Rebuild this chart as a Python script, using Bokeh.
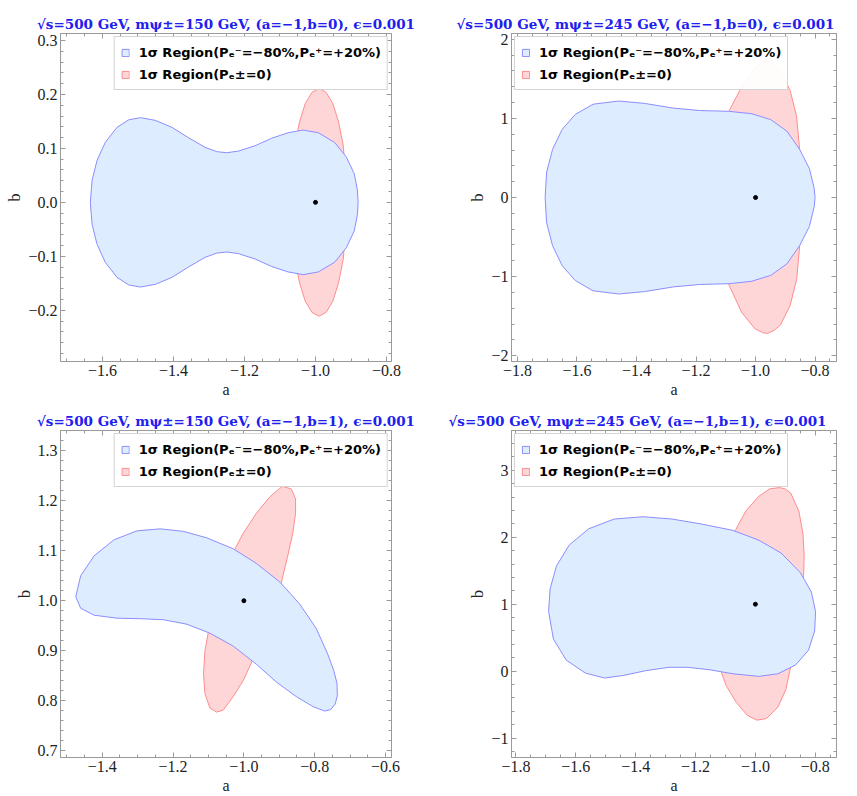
from bokeh.plotting import figure
from bokeh.layouts import gridplot
from bokeh.models import (SingleIntervalTicker, LinearAxis, CustomJSTickFormatter,
                          Range1d, Legend, LegendItem, Title)
from bokeh.embed import file_html
from bokeh.resources import INLINE

# ---------------- data ----------------
TITLES = [
    "√s=500 GeV, mψ±=150 GeV, (a=−1,b=0), ϵ=0.001",
    "√s=500 GeV, mψ±=245 GeV, (a=−1,b=0), ϵ=0.001",
    "√s=500 GeV, mψ±=150 GeV, (a=−1,b=1), ϵ=0.001",
    "√s=500 GeV, mψ±=245 GeV, (a=−1,b=1), ϵ=0.001",
]
LEG_POL = "1σ Region(Pₑ⁻=−80%,Pₑ⁺=+20%)"
LEG_UNPOL = "1σ Region(Pₑ±=0)"

BENCH_A = [-1.0, -1.0, -1.0, -1.0]
BENCH_B = [0.0, 0.0, 1.0, 1.0]

# panel 1 : m=150, b=0
P1_BLUE_A = [-1.634, -1.629, -1.615, -1.592, -1.559, -1.526, -1.493, -1.451, -1.404, -1.358, -1.311, -1.278,
             -1.250, -1.217, -1.170, -1.123, -1.077, -1.035, -0.992, -0.946, -0.913, -0.891, -0.882, -0.880,
             -0.882, -0.891, -0.913, -0.946, -0.992, -1.035, -1.077, -1.123, -1.170, -1.217, -1.250, -1.278,
             -1.311, -1.358, -1.404, -1.451, -1.493, -1.526, -1.559, -1.592, -1.615, -1.629]
P1_BLUE_B = [0.000, 0.041, 0.078, 0.111, 0.139, 0.153, 0.157, 0.152, 0.139, 0.120, 0.102, 0.094,
             0.092, 0.095, 0.105, 0.119, 0.129, 0.134, 0.129, 0.111, 0.084, 0.053, 0.023, 0.000,
             -0.023, -0.053, -0.084, -0.111, -0.129, -0.134, -0.129, -0.119, -0.105, -0.095, -0.092, -0.094,
             -0.102, -0.120, -0.139, -0.152, -0.157, -0.153, -0.139, -0.111, -0.078, -0.041]
P1_RED_A = [-0.912, -0.915, -0.922, -0.935, -0.951, -0.970, -0.990, -1.010, -1.029, -1.045, -1.058, -1.065,
            -1.068, -1.065, -1.058, -1.045, -1.029, -1.010, -0.990, -0.970, -0.951, -0.935, -0.922, -0.915]
P1_RED_B = [0.000, 0.055, 0.106, 0.149, 0.183, 0.204, 0.211, 0.204, 0.183, 0.149, 0.106, 0.055,
            0.000, -0.055, -0.106, -0.149, -0.183, -0.204, -0.211, -0.204, -0.183, -0.149, -0.106, -0.055]

# panel 2 : m=245, b=0
P2_BLUE_A = [-1.707, -1.702, -1.682, -1.650, -1.606, -1.546, -1.460, -1.373, -1.275, -1.188, -1.090, -1.014,
             -0.949, -0.895, -0.852, -0.819, -0.803, -0.800, -0.803, -0.819, -0.852, -0.895, -0.949, -1.014,
             -1.090, -1.188, -1.275, -1.373, -1.460, -1.546, -1.606, -1.650, -1.682, -1.702]
P2_BLUE_B = [0.00, 0.32, 0.61, 0.86, 1.05, 1.18, 1.22, 1.19, 1.13, 1.10, 1.09, 1.06,
             0.985, 0.84, 0.61, 0.365, 0.118, 0.00, -0.118, -0.365, -0.61, -0.84, -0.985, -1.06,
             -1.09, -1.10, -1.13, -1.19, -1.22, -1.18, -1.05, -0.86, -0.61, -0.32]
P2_RED_A = [-1.003, -0.976, -0.960, -0.938, -0.917, -0.884, -0.862, -0.852, -0.849, -0.852, -0.862, -0.884,
            -0.917, -0.938, -0.960, -0.976, -1.003, -1.047, -1.090, -1.123, -1.134, -1.123, -1.090, -1.047]
P2_RED_B = [1.624, 1.715, 1.728, 1.678, 1.604, 1.356, 1.026, 0.613, 0.000, -0.625, -1.038, -1.368,
            -1.616, -1.680, -1.719, -1.710, -1.657, -1.451, -1.100, -0.625, 0.000, 0.613, 1.088, 1.397]

# panel 3 : m=150, b=1
P3_BLUE_A = [-1.475, -1.461, -1.423, -1.367, -1.302, -1.236, -1.171, -1.105, -1.030, -0.965, -0.899, -0.843,
             -0.796, -0.763, -0.746, -0.737, -0.736, -0.742, -0.755, -0.772, -0.805, -0.852, -0.908, -0.965,
             -1.030, -1.096, -1.161, -1.227, -1.292, -1.358, -1.423, -1.461]
P3_BLUE_B = [1.008, 1.050, 1.090, 1.122, 1.140, 1.144, 1.139, 1.126, 1.104, 1.075, 1.038, 0.994,
             0.945, 0.893, 0.860, 0.835, 0.810, 0.793, 0.782, 0.779, 0.788, 0.808, 0.837, 0.873,
             0.909, 0.935, 0.953, 0.962, 0.964, 0.965, 0.971, 0.985]
P3_RED_A = [-0.890, -0.866, -0.854, -0.854, -0.862, -0.876, -0.894, -0.935, -0.974, -1.002, -1.030, -1.058,
            -1.077, -1.096, -1.110, -1.114, -1.110, -1.100, -1.065, -1.025, -1.002, -0.965, -0.927, -0.899]
P3_RED_B = [1.229, 1.224, 1.204, 1.175, 1.135, 1.090, 1.037, 0.955, 0.883, 0.840, 0.808, 0.781,
            0.777, 0.785, 0.814, 0.853, 0.899, 0.939, 1.020, 1.104, 1.135, 1.175, 1.208, 1.225]

# panel 4 : m=245, b=1
P4_BLUE_A = [-1.691, -1.686, -1.665, -1.622, -1.557, -1.472, -1.375, -1.279, -1.182, -1.075, -0.989, -0.914,
             -0.850, -0.813, -0.799, -0.802, -0.823, -0.866, -0.925, -0.989, -1.075, -1.150, -1.225, -1.289,
             -1.365, -1.440, -1.504, -1.568, -1.632, -1.675]
P4_BLUE_B = [0.891, 1.230, 1.570, 1.885, 2.127, 2.273, 2.307, 2.273, 2.200, 2.103, 1.958, 1.764,
             1.473, 1.182, 0.891, 0.600, 0.309, 0.091, -0.040, -0.079, -0.040, 0.018, 0.057, 0.057,
             0.008, -0.064, -0.103, -0.030, 0.164, 0.479]
P4_RED_A = [-0.920, -0.900, -0.882, -0.855, -0.841, -0.837, -0.839, -0.845, -0.862, -0.882, -0.898, -0.925,
            -0.963, -0.995, -1.027, -1.064, -1.097, -1.113, -1.120, -1.100, -1.067, -1.032, -0.989, -0.952]
P4_RED_B = [2.743, 2.722, 2.661, 2.394, 2.055, 1.715, 1.424, 1.000, 0.500, 0.067, -0.273, -0.539,
            -0.709, -0.733, -0.661, -0.467, -0.224, -0.030, 0.400, 1.200, 2.103, 2.394, 2.612, 2.724]

X_TICK_STEP = [0.2, 0.2, 0.2, 0.2]
Y_TICK_STEP = [0.1, 1.0, 0.1, 1.0]
Y_DECIMALS = [1, 0, 1, 0]

# ---------------- styling / layout ----------------
BLUE_FILL = "#DDEDFF"
BLUE_LINE = "#8C8CFF"
RED_FILL = "#FFD6D8"
RED_LINE = "#FF8C8C"
FRAME = "#9a9a9a"
TITLE_COLOR = "#2020EE"

PANELS = [
    dict(blue=(P1_BLUE_A, P1_BLUE_B), red=(P1_RED_A, P1_RED_B), xr=(-1.718, -0.786), yr=(-0.295, 0.313),
         W=428, H=400, bl=60, br=36, bt=33, bb=35, loc="top_right", talign="center", toff=0),
    dict(blue=(P2_BLUE_A, P2_BLUE_B), red=(P2_RED_A, P2_RED_B), xr=(-1.82, -0.728), yr=(-2.074, 2.074),
         W=429, H=400, bl=83, br=11, bt=32, bb=33, loc="top_left", talign="right", toff=2),
    dict(blue=(P3_BLUE_A, P3_BLUE_B), red=(P3_RED_A, P3_RED_B), xr=(-1.518, -0.583), yr=(0.686, 1.341),
         W=428, H=396, bl=58, br=37, bt=30, bb=33, loc="top_right", talign="center", toff=0),
    dict(blue=(P4_BLUE_A, P4_BLUE_B), red=(P4_RED_A, P4_RED_B), xr=(-1.815, -0.729), yr=(-1.291, 3.596),
         W=429, H=396, bl=71, br=21, bt=28, bb=33, loc="top_left", talign="right", toff=10),
]


def num_fmt(dec):
    return CustomJSTickFormatter(args=dict(d=dec), code="""
        const v = Math.abs(tick) < 1e-9 ? 0 : tick;
        const s = Math.abs(v).toFixed(d);
        return (v < 0 ? '\\u2212' : '') + s;
    """)


def style_axis(ax, labels=True):
    ax.axis_line_color = FRAME
    ax.major_tick_line_color = FRAME
    ax.minor_tick_line_color = FRAME
    ax.major_tick_in = 5
    ax.major_tick_out = 0
    ax.minor_tick_in = 3
    ax.minor_tick_out = 0
    ax.major_label_text_font = "Liberation Serif"
    ax.major_label_text_font_size = "16px"
    ax.major_label_text_color = "#222222"
    ax.major_label_standoff = 3 if labels else 0
    ax.axis_label_text_font = "Liberation Serif"
    ax.axis_label_text_font_style = "normal"
    ax.axis_label_text_font_size = "16px"
    ax.axis_label_text_color = "#222222"
    ax.axis_label_standoff = 2


def make_panel(i):
    cfg = PANELS[i]
    p = figure(width=cfg["W"], height=cfg["H"], x_range=Range1d(*cfg["xr"]), y_range=Range1d(*cfg["yr"]),
               output_backend="svg", toolbar_location=None, title=None,
               min_border_left=cfg["bl"], min_border_right=cfg["br"],
               min_border_top=cfg["bt"], min_border_bottom=cfg["bb"])
    p.grid.visible = False
    p.outline_line_color = FRAME
    p.background_fill_color = "white"
    p.border_fill_color = "white"

    xt = SingleIntervalTicker(interval=X_TICK_STEP[i], num_minor_ticks=4)
    yt = SingleIntervalTicker(interval=Y_TICK_STEP[i], num_minor_ticks=5)
    p.xaxis.ticker = xt
    p.yaxis.ticker = yt
    p.xaxis.formatter = num_fmt(1)
    p.yaxis.formatter = num_fmt(Y_DECIMALS[i])
    p.xaxis.axis_label = "a"
    p.yaxis.axis_label = "b"
    for ax in p.xaxis + p.yaxis:
        style_axis(ax)

    top = LinearAxis(ticker=xt, formatter=CustomJSTickFormatter(code="return '';"))
    right = LinearAxis(ticker=yt, formatter=CustomJSTickFormatter(code="return '';"))
    style_axis(top, labels=False)
    style_axis(right, labels=False)
    p.add_layout(top, "above")
    p.add_layout(right, "right")

    t = Title(text=TITLES[i], align=cfg["talign"], text_font="DejaVu Serif", text_font_style="bold",
              text_font_size="13.5px", text_color=TITLE_COLOR, standoff=3, offset=cfg["toff"])
    p.add_layout(t, "above")

    red = p.patch(cfg["red"][0], cfg["red"][1], fill_color=RED_FILL, line_color=RED_LINE, line_width=1)
    blue = p.patch(cfg["blue"][0], cfg["blue"][1], fill_color=BLUE_FILL, line_color=BLUE_LINE, line_width=1)
    p.scatter([BENCH_A[i]], [BENCH_B[i]], size=4, color="black")

    leg = Legend(items=[LegendItem(label=LEG_POL, renderers=[blue]),
                        LegendItem(label=LEG_UNPOL, renderers=[red])],
                 location=cfg["loc"])
    leg.label_text_font = "DejaVu Sans"
    leg.label_text_font_style = "bold"
    leg.label_text_font_size = "13px"
    leg.label_text_color = "black"
    leg.glyph_width = 9
    leg.glyph_height = 9
    leg.label_height = 18
    leg.label_standoff = 9
    leg.spacing = 4
    leg.padding = 6
    leg.margin = 3
    leg.border_line_color = "#aaaaaa"
    leg.background_fill_alpha = 0.92
    p.add_layout(leg)
    return p


figs = [make_panel(i) for i in range(4)]
grid = gridplot([[figs[0], figs[1]], [figs[2], figs[3]]], toolbar_location=None)

open("out.html", "w").write(file_html(grid, INLINE))
